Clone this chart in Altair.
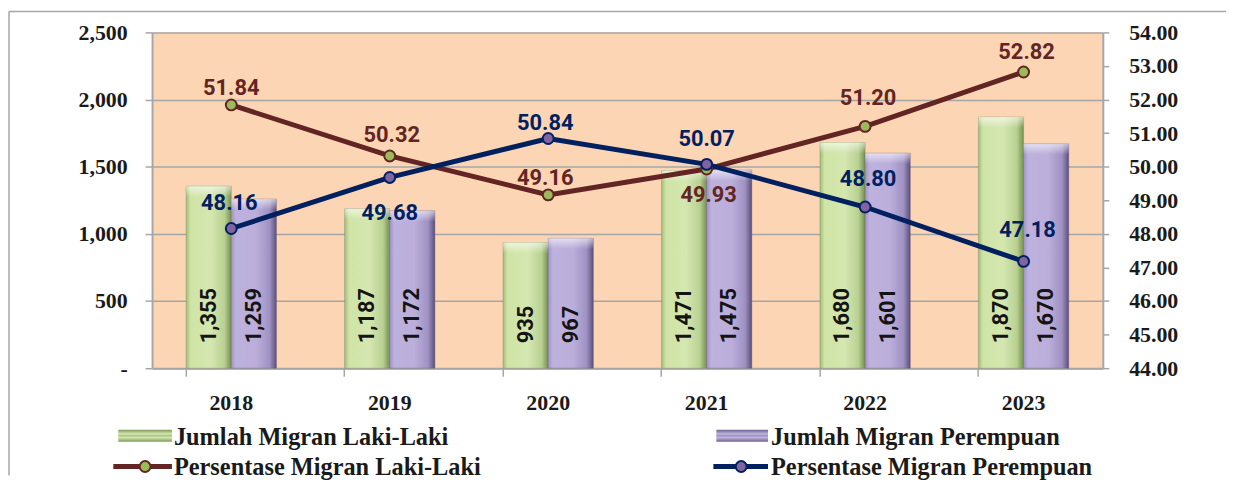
import altair as alt
import pandas as pd

# ---------------- data ----------------
years = ["2018", "2019", "2020", "2021", "2022", "2023"]
jumlah_laki = [1355, 1187, 935, 1471, 1680, 1870]
jumlah_perempuan = [1259, 1172, 967, 1475, 1601, 1670]
persen_laki = [51.84, 50.32, 49.16, 49.93, 51.20, 52.82]
persen_perempuan = [48.16, 49.68, 50.84, 50.07, 48.80, 47.18]
series_names = [
    "Jumlah Migran Laki-Laki",
    "Jumlah Migran Perempuan",
    "Persentase Migran Laki-Laki",
    "Persentase Migran Perempuan",
]
left_ticks = [0, 500, 1000, 1500, 2000, 2500]
right_ticks = [44, 45, 46, 47, 48, 49, 50, 51, 52, 53, 54]

# ---------------- style ----------------
W, H = 957, 338
PEACH = "#fcd5b4"
GRID = "#a6a6a6"
MAROON = "#632523"
NAVY = "#002060"
GREEN_PT = "#9bbb59"
PURPLE_PT = "#8064a2"
SERIF = "Liberation Serif"
SANS = "Roboto"

# label offsets (dx, dy) per year, for the percentage labels
off_laki = {"2018": (0, -17), "2019": (2, -21), "2020": (-3, -17),
            "2021": (2, 26), "2022": (3, -29), "2023": (3, -20)}
off_per = {"2018": (-2, -26), "2019": (0, 36), "2020": (-3, -16),
           "2021": (0, -25), "2022": (3, -28), "2023": (4, -32)}

bars_df = pd.DataFrame({
    "year": years * 2,
    "series": [series_names[0]] * 6 + [series_names[1]] * 6,
    "value": jumlah_laki + jumlah_perempuan,
})
laki_df = pd.DataFrame({"year": years, "pct": persen_laki})
per_df = pd.DataFrame({"year": years, "pct": persen_perempuan})

x_scale = alt.Scale(domain=years, paddingInner=0.43, paddingOuter=0.215)
x_axis = alt.Axis(title=None, labelAngle=0, bandPosition=0,
                  tickSize=8, tickColor=GRID, tickWidth=1.5,
                  domainColor=GRID, domainWidth=2,
                  labelFont=SERIF, labelFontWeight="bold",
                  labelFontSize=22, labelColor="#1a1a1a",
                  labelPadding=17)
x_enc = alt.X("year:N", scale=x_scale, axis=x_axis)
xoff = alt.XOffset("series:N", scale=alt.Scale(domain=series_names[:2]))
y_left_scale = alt.Scale(domain=[0, 2500], nice=False)
y_right_scale = alt.Scale(domain=[44, 54], nice=False)

y_left_axis = alt.Axis(title=None, values=left_ticks, labelOverlap=False,
                       labelExpr="datum.value == 0 ? '-\u00a0\u00a0' : format(datum.value, ',')",
                       grid=True, gridColor=GRID, gridWidth=1.5,
                       tickSize=7, tickColor=GRID, tickWidth=1.5,
                       domainColor=GRID, domainWidth=2,
                       labelFont=SERIF, labelFontWeight="bold",
                       labelFontSize=22, labelColor="#1a1a1a",
                       labelPadding=18)
y_right_axis = alt.Axis(title=None, orient="right", values=right_ticks,
                        format=".2f", grid=False, labelOverlap=False,
                        tickSize=6, tickColor=GRID, tickWidth=1.5,
                        domainColor=GRID, domainWidth=2,
                        labelFont=SERIF, labelFontWeight="bold",
                        labelFontSize=22, labelColor="#1a1a1a",
                        labelPadding=20)


def hgrad(stops):
    return alt.Gradient(
        gradient="linear", x1=0, x2=1, y1=0, y2=0,
        stops=[alt.GradientStop(color=c, offset=o) for o, c in stops])


def vgrad(stops):
    return alt.Gradient(
        gradient="linear", x1=0, x2=0, y1=0, y2=1,
        stops=[alt.GradientStop(color=c, offset=o) for o, c in stops])


green_grad = hgrad([(0, "#a3bd7a"), (0.1, "#cfe4a6"), (0.55, "#d4e7b0"),
                    (0.85, "#b9d092"), (1, "#75904f")])
purple_grad = hgrad([(0, "#9f93c3"), (0.1, "#bdb1dd"), (0.55, "#bbaeda"),
                     (0.85, "#9f92c3"), (1, "#5a4f7b")])

y_bar = alt.Y("value:Q", scale=y_left_scale, axis=y_left_axis)

base_bars = alt.Chart(bars_df)
bar_laki = base_bars.transform_filter(alt.datum.series == series_names[0]).mark_bar(
    fill=green_grad, stroke="#6f7f5a", strokeWidth=0.6, strokeOpacity=0.6
).encode(x=x_enc, xOffset=xoff, y=y_bar)
bar_per = base_bars.transform_filter(alt.datum.series == series_names[1]).mark_bar(
    fill=purple_grad, stroke="#5a5070", strokeWidth=0.6, strokeOpacity=0.6
).encode(x=x_enc, xOffset=xoff, y=y_bar)

# top bevel highlight on each bar
bevel = base_bars.mark_bar(
    fill=vgrad([(0, "rgba(255,255,255,0.6)"), (1, "rgba(255,255,255,0)")])
).encode(
    x=x_enc, xOffset=xoff, y=y_bar, y2=alt.Y2("bev:Q"),
).transform_calculate(bev="datum.value - 80")

bar_text = base_bars.mark_text(
    angle=270, align="left", baseline="middle", dx=25,
    font=SANS, fontWeight="bold", fontSize=22, color="#141414"
).encode(x=x_enc, xOffset=xoff,
         y=alt.Y("zero:Q", scale=y_left_scale, axis=y_left_axis),
         text=alt.Text("value:Q", format=",")).transform_calculate(zero="0")

# ---------------- legend (drawn marks) ----------------
one = pd.DataFrame({"k": [0]})
R1, R2 = 405, 436  # legend row centres, relative to plot top
leg = []
leg.append(alt.Chart(one).mark_rect(fill=vgrad([(0, "#7f9a5a"), (0.35, "#d4e7b0"), (0.5, "#a9c282"), (0.65, "#d4e7b0"), (1, "#7f9a5a")]))
           .encode(x=alt.value(-34), x2=alt.value(20), y=alt.value(R1 - 5), y2=alt.value(R1 + 7)))
leg.append(alt.Chart(one).mark_rect(fill=vgrad([(0, "#6e6193"), (0.35, "#c0b4de"), (0.5, "#9d90c2"), (0.65, "#c0b4de"), (1, "#6e6193")]))
           .encode(x=alt.value(568), x2=alt.value(620), y=alt.value(R1 - 5), y2=alt.value(R1 + 7)))
leg.append(alt.Chart(one).mark_rule(color=MAROON, strokeWidth=5)
           .encode(x=alt.value(-39), x2=alt.value(20), y=alt.value(R2 + 1)))
leg.append(alt.Chart(one).mark_rule(color=NAVY, strokeWidth=5)
           .encode(x=alt.value(565), x2=alt.value(620), y=alt.value(R2 + 1)))
leg.append(alt.Chart(one).mark_circle(fill=GREEN_PT, stroke=MAROON, strokeWidth=2, size=120, opacity=1)
           .encode(x=alt.value(-7), y=alt.value(R2 + 1)))
leg.append(alt.Chart(one).mark_circle(fill=PURPLE_PT, stroke=NAVY, strokeWidth=2, size=120, opacity=1)
           .encode(x=alt.value(593), y=alt.value(R2 + 1)))
leg_pos = [(22, R1 + 3), (623, R1 + 3), (22, R2 + 3), (623, R2 + 3)]
for name, (lx, ly) in zip(series_names, leg_pos):
    leg.append(alt.Chart(pd.DataFrame({"t": [name]})).mark_text(
        align="left", baseline="middle", font=SERIF, fontWeight="bold",
        fontSize=24.5, color="#1a1a1a").encode(x=alt.value(lx), y=alt.value(ly), text="t:N"))

# outer frame
leg.append(alt.Chart(one).mark_rule(color=GRID, strokeWidth=1.5)
           .encode(x=alt.value(-144), x2=alt.value(1081), y=alt.value(-21)))
leg.append(alt.Chart(one).mark_rule(color=GRID, strokeWidth=1.5)
           .encode(x=alt.value(-144), y=alt.value(-21), y2=alt.value(446)))

left = alt.layer(bar_laki, bar_per, bevel, bar_text, *leg)

# ---------------- lines ----------------
y_right = alt.Y("pct:Q", scale=y_right_scale, axis=y_right_axis)

line_laki = alt.Chart(laki_df).mark_line(color=MAROON, strokeWidth=5).encode(x=x_enc, y=y_right)
line_per = alt.Chart(per_df).mark_line(color=NAVY, strokeWidth=5).encode(x=x_enc, y=y_right)
pt_laki = alt.Chart(laki_df).mark_circle(fill=GREEN_PT, stroke=MAROON, strokeWidth=2, size=120, opacity=1).encode(x=x_enc, y=y_right)
pt_per = alt.Chart(per_df).mark_circle(fill=PURPLE_PT, stroke=NAVY, strokeWidth=2, size=120, opacity=1).encode(x=x_enc, y=y_right)

labels = []
for df, offs, col in [(laki_df, off_laki, MAROON), (per_df, off_per, NAVY)]:
    for yr in years:
        dx, dy = offs[yr]
        labels.append(alt.Chart(df).transform_filter(alt.datum.year == yr).mark_text(
            align="center", baseline="middle", dx=dx, dy=dy,
            font=SANS, fontWeight="bold", fontSize=22, color=col
        ).encode(x=x_enc, y=y_right, text=alt.Text("pct:Q", format=".2f")))

right = alt.layer(line_laki, line_per, pt_laki, pt_per, *labels)

chart = alt.layer(left, right).resolve_scale(y="independent").properties(
    width=W, height=H,
    padding={"left": 0, "top": 1, "right": 0, "bottom": 0},
).configure_view(fill=PEACH, stroke=None)

chart.save("out.html", embed_options={"renderer": "svg", "actions": False})
